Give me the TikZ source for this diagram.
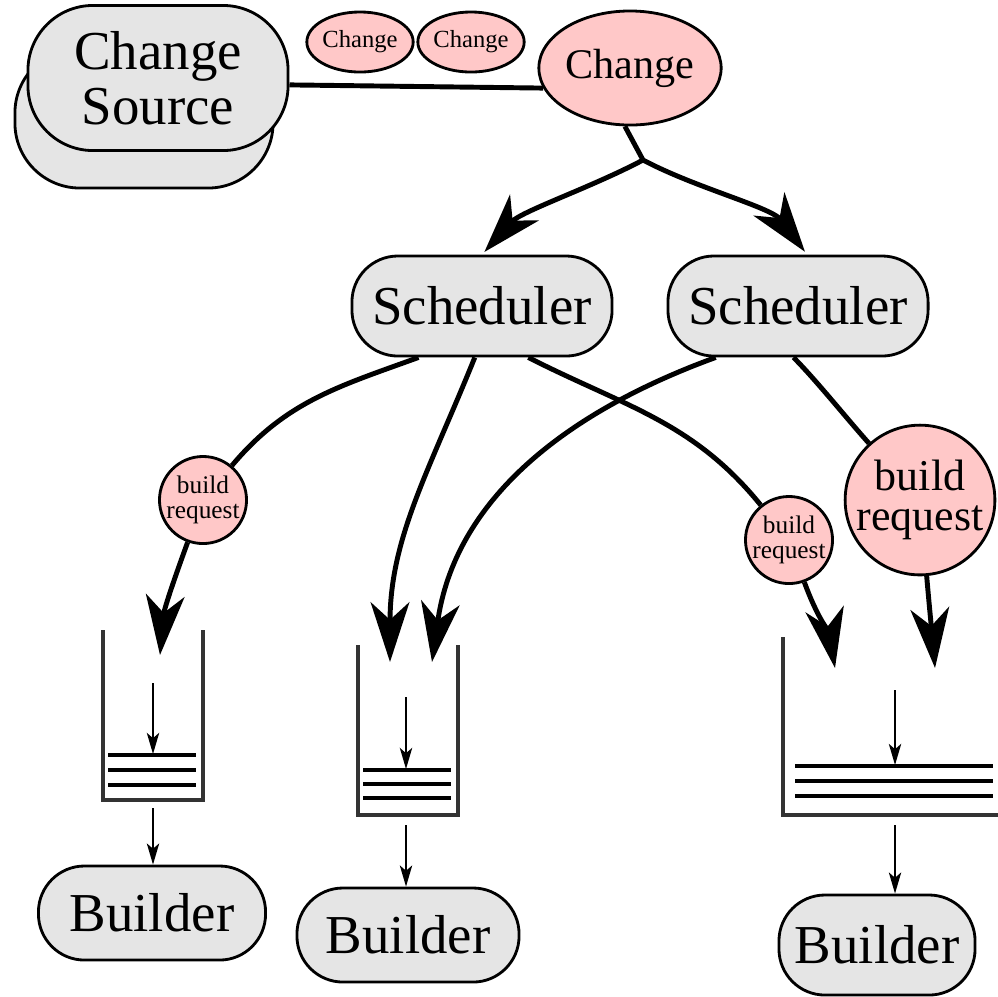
\documentclass[tikz,border=0pt]{standalone}
\usepackage{fontspec}
\setmainfont{Liberation Serif}
\newfontfamily\diagfont{Liberation Serif}
\usetikzlibrary{arrows.meta,shapes.geometric}
\definecolor{pinkfill}{RGB}{255,200,200}
\definecolor{boxfill}{RGB}{229,229,229}
\begin{document}
\begin{tikzpicture}[x=0.01cm,y=-0.01cm,>={Stealth[length=17pt,width=11pt,inset=5pt]},
	box/.style={draw,line width=0.8pt,fill=boxfill,rounded corners=0.46cm,inner sep=0pt,align=center,font=\diagfont\fontsize{15.6}{15.6}\selectfont},
	msg/.style={draw,line width=0.8pt,fill=pinkfill,ellipse,inner sep=0pt},
	req/.style={draw,line width=0.8pt,fill=pinkfill,circle,inner sep=0pt,align=center},
	flow/.style={line width=1.4pt,->},
	feed/.style={line width=0.6pt,-{Stealth[length=6pt,width=3.5pt,inset=1.5pt]}},
	wall/.style={line width=0.9pt,draw=black!80},
	slot/.style={line width=0.9pt}]
	\useasboundingbox (0,0) rectangle (998,996);
	% sources and changes
	\node[box,minimum width=2.58cm,minimum height=1.4cm,rounded corners=0.65cm] (srcback) at (144,118) {};
	\node[box,minimum width=2.6cm,minimum height=1.45cm,rounded corners=0.65cm] (src) at (158,78) {Change\\Source};
	\node[msg,minimum width=0.86cm,minimum height=0.6cm,font=\diagfont\fontsize{7}{7}\selectfont] (c1) at (360,42) {Change};
	\node[msg,minimum width=0.86cm,minimum height=0.6cm,font=\diagfont\fontsize{7}{7}\selectfont] (c2) at (471,42) {Change};
	\node[msg,minimum width=1.56cm,minimum height=1.14cm,font=\diagfont\fontsize{12}{12}\selectfont] (chg) at (630,68) {Change};
	\coordinate (fork) at (643,160);
	\draw[line width=1.4pt] (src.-3) -- (chg.193);
	\draw[line width=1.4pt] (chg.265) -- (fork);
	% schedulers
	\node[box,minimum width=2.6cm,minimum height=1cm] (sch1) at (482,306) {Scheduler};
	\node[box,minimum width=2.6cm,minimum height=1cm] (sch2) at (798,306) {Scheduler};
	\draw[flow,shorten >=1pt] (fork) to[out=208,in=48,looseness=0.8] (sch1.north);
	\draw[flow,shorten >=1pt] (fork) to[out=-28,in=127,looseness=0.8] (sch2.80);
	% build requests
	\node[req,minimum size=0.84cm,font=\diagfont\fontsize{7.2}{7}\selectfont] (br1) at (203,500) {build\\request};
	\node[req,minimum size=0.84cm,font=\diagfont\fontsize{7.2}{7}\selectfont] (br2) at (789,540) {build\\request};
	\node[req,minimum size=1.48cm,font=\diagfont\fontsize{12.5}{11.5}\selectfont] (br3) at (920,500) {build\\request};
	\coordinate (q1in) at (160,655);
	\coordinate (q2a) at (390,662);
	\coordinate (q2b) at (432,662);
	\coordinate (q3a) at (835,668);
	\coordinate (q3b) at (935,668);
	\draw[line width=1.4pt] (sch1.219) to[out=200,in=50] (br1);
	\draw[flow] (br1) to[out=250,in=85] (q1in);
	\draw[flow] (sch1.262) to[out=248,in=90] (q2a);
	\draw[line width=1.4pt] (sch1.-48) to[out=-27,in=129] (br2);
	\draw[flow] (br2) to[out=-70,in=100] (q3a);
	\draw[flow] (sch2.212) to[out=200,in=82] (q2b);
	\draw[line width=1.4pt] (sch2.265) to[out=-45,in=132,looseness=0.7] (br3);
	\draw[flow] (br3) to[out=-85,in=95] (q3b);
	% queues
	\draw[wall] (103,630) -- (103,800) -- (203,800) -- (203,630);
	\foreach \y in {755,770,785}\draw[slot] (108,\y) -- (196,\y);
	\draw[wall] (358,645) -- (358,815) -- (458,815) -- (458,645);
	\foreach \y in {770,784,798}\draw[slot] (363,\y) -- (451,\y);
	\draw[wall] (783,637) -- (783,815) -- (998,815);
	\foreach \y in {766,781,796}\draw[slot] (795,\y) -- (993,\y);
	\coordinate (q1top) at (153,683); \coordinate (q1low) at (153,754); \coordinate (q1out) at (153,808);
	\coordinate (q2top) at (406,697); \coordinate (q2low) at (406,769); \coordinate (q2out) at (406,825);
	\coordinate (q3top) at (895,690); \coordinate (q3low) at (895,765); \coordinate (q3out) at (895,825);
	% builders
	\node[box,minimum width=2.27cm,minimum height=0.94cm] (b1) at (152,913) {Builder};
	\node[box,minimum width=2.22cm,minimum height=0.94cm] (b2) at (408,935) {Builder};
	\node[box,minimum width=1.96cm,minimum height=1cm] (b3) at (877,945) {Builder};
	\draw[feed] (q1top) -- (q1low);
	\draw[feed] (q2top) -- (q2low);
	\draw[feed] (q3top) -- (q3low);
	\draw[feed] (q1out) -- (q1out |- b1.north);
	\draw[feed] (q2out) -- (q2out |- b2.north);
	\draw[feed] (q3out) -- (q3out |- b3.north);
\end{tikzpicture}
\end{document}
